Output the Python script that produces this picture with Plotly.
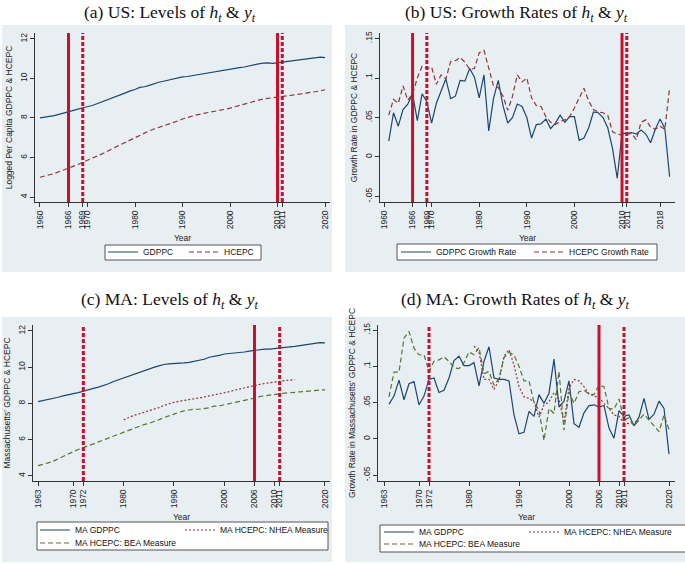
import plotly.graph_objects as go

# ---- data ----
us_years = list(range(1960, 2021))
us_gr_years = list(range(1961, 2021))
ma_years = list(range(1963, 2021))
ma_gr_years = list(range(1964, 2021))
nhea_years = list(range(1980, 2015))
nhea_gr_years = list(range(1981, 2015))

us_gdppc = [8.01, 8.03, 8.08, 8.12, 8.18, 8.25, 8.31, 8.37, 8.45, 8.52,
            8.56, 8.63, 8.72, 8.81, 8.89, 8.96, 9.06, 9.15, 9.27, 9.37,
            9.44, 9.55, 9.58, 9.65, 9.75, 9.81, 9.86, 9.91, 9.97, 10.04,
            10.08, 10.10, 10.14, 10.18, 10.23, 10.26, 10.31, 10.36, 10.40, 10.45,
            10.50, 10.52, 10.55, 10.58, 10.64, 10.69, 10.74, 10.78, 10.79, 10.76,
            10.79, 10.82, 10.85, 10.88, 10.92, 10.95, 10.97, 11.00, 11.05, 11.08,
            11.05]
us_hcepc = [5.00, 5.05, 5.13, 5.19, 5.28, 5.36, 5.44, 5.54, 5.65, 5.76,
            5.88, 5.97, 6.07, 6.17, 6.29, 6.42, 6.54, 6.66, 6.77, 6.88,
            7.02, 7.15, 7.26, 7.35, 7.44, 7.52, 7.58, 7.65, 7.76, 7.85,
            7.95, 8.03, 8.09, 8.16, 8.21, 8.25, 8.29, 8.34, 8.39, 8.44,
            8.50, 8.57, 8.66, 8.73, 8.79, 8.85, 8.90, 8.96, 8.99, 9.02,
            9.05, 9.08, 9.11, 9.13, 9.17, 9.22, 9.26, 9.29, 9.33, 9.37,
            9.43]

us_gdppc_gr = [0.020, 0.056, 0.039, 0.060, 0.067, 0.080, 0.046, 0.080, 0.070, 0.043,
               0.068, 0.083, 0.099, 0.074, 0.077, 0.097, 0.096, 0.112, 0.101, 0.075,
               0.104, 0.033, 0.074, 0.097, 0.065, 0.043, 0.050, 0.067, 0.064, 0.050,
               0.024, 0.041, 0.042, 0.048, 0.036, 0.043, 0.053, 0.044, 0.051, 0.051,
               0.021, 0.024, 0.037, 0.057, 0.056, 0.050, 0.037, 0.011, -0.027, 0.030,
               0.030, 0.031, 0.029, 0.034, 0.029, 0.018, 0.035, 0.048, 0.036, -0.025]
us_hcepc_gr = [0.053, 0.073, 0.068, 0.090, 0.072, 0.080, 0.100, 0.115, 0.112, 0.114,
               0.092, 0.104, 0.099, 0.121, 0.122, 0.126, 0.120, 0.111, 0.112, 0.132,
               0.135, 0.112, 0.090, 0.088, 0.077, 0.059, 0.077, 0.104, 0.095, 0.100,
               0.075, 0.065, 0.064, 0.051, 0.044, 0.041, 0.045, 0.047, 0.051, 0.062,
               0.075, 0.087, 0.071, 0.060, 0.057, 0.056, 0.053, 0.032, 0.029, 0.028,
               0.029, 0.030, 0.022, 0.044, 0.047, 0.038, 0.035, 0.039, 0.035, 0.088]

ma_gdppc = [8.10, 8.15, 8.21, 8.29, 8.34, 8.42, 8.50, 8.54, 8.60, 8.69,
            8.77, 8.83, 8.90, 8.98, 9.09, 9.21, 9.31, 9.41, 9.51, 9.59,
            9.69, 9.82, 9.90, 9.99, 10.07, 10.15, 10.18, 10.19, 10.20, 10.24,
            10.27, 10.33, 10.38, 10.44, 10.55, 10.59, 10.65, 10.73, 10.75, 10.76,
            10.80, 10.84, 10.89, 10.94, 10.98, 11.00, 11.00, 11.04, 11.07, 11.10,
            11.12, 11.15, 11.20, 11.23, 11.27, 11.32, 11.36, 11.34]
ma_hcepc_bea = [4.57, 4.63, 4.72, 4.81, 4.95, 5.10, 5.22, 5.34, 5.46, 5.55,
                5.66, 5.77, 5.88, 5.99, 6.08, 6.18, 6.29, 6.41, 6.52, 6.65,
                6.74, 6.83, 6.90, 6.99, 7.10, 7.22, 7.33, 7.43, 7.51, 7.59,
                7.64, 7.68, 7.68, 7.72, 7.76, 7.85, 7.86, 7.93, 7.98, 8.04,
                8.11, 8.17, 8.23, 8.31, 8.38, 8.42, 8.46, 8.52, 8.54, 8.57,
                8.59, 8.62, 8.65, 8.68, 8.69, 8.70, 8.74, 8.75]
ma_hcepc_nhea = [7.09, 7.22, 7.34, 7.42, 7.50, 7.57, 7.65, 7.77, 7.89, 7.99,
                 8.06, 8.12, 8.18, 8.23, 8.26, 8.30, 8.36, 8.42, 8.47, 8.50,
                 8.57, 8.65, 8.73, 8.80, 8.86, 8.92, 8.99, 9.05, 9.10, 9.15,
                 9.19, 9.23, 9.26, 9.29, 9.31]

ma_gdppc_gr = [0.048, 0.059, 0.081, 0.054, 0.076, 0.079, 0.047, 0.059, 0.082, 0.084,
               0.064, 0.067, 0.084, 0.108, 0.114, 0.101, 0.101, 0.105, 0.073, 0.107,
               0.127, 0.084, 0.082, 0.082, 0.080, 0.033, 0.007, 0.009, 0.038, 0.031,
               0.061, 0.049, 0.063, 0.110, 0.044, 0.052, 0.080, 0.021, 0.016, 0.036,
               0.046, 0.047, 0.044, 0.046, 0.015, 0.001, 0.039, 0.031, 0.033, 0.018,
               0.030, 0.056, 0.027, 0.034, 0.052, 0.042, -0.021]
ma_bea_gr = [0.058, 0.092, 0.092, 0.139, 0.148, 0.125, 0.116, 0.116, 0.093, 0.107,
             0.109, 0.113, 0.107, 0.098, 0.097, 0.105, 0.120, 0.116, 0.126, 0.090,
             0.093, 0.074, 0.083, 0.112, 0.119, 0.116, 0.100, 0.080, 0.080, 0.050,
             0.040, -0.002, 0.042, 0.035, 0.093, 0.012, 0.065, 0.049, 0.065, 0.067,
             0.062, 0.061, 0.074, 0.072, 0.042, 0.041, 0.055, 0.026, 0.029, 0.018,
             0.026, 0.034, 0.026, 0.018, 0.010, 0.033, 0.013]
ma_nhea_gr = [0.128, 0.120, 0.082, 0.082, 0.068, 0.081, 0.114, 0.123, 0.102, 0.072,
              0.058, 0.056, 0.051, 0.030, 0.047, 0.051, 0.064, 0.055, 0.022, 0.070,
              0.082, 0.080, 0.072, 0.062, 0.059, 0.057, 0.049, 0.042, 0.033, 0.031,
              0.022, 0.021, 0.023, 0.025]

# reference years (solid / dashed vertical lines)
us_solid = [1966, 2010]
us_dashed = [1969, 2011]
ma_solid = [2006]
ma_dashed = [1972, 2011]

us_ticks_a = [1960, 1966, 1969, 1970, 1980, 1990, 2000, 2010, 2011, 2020]
us_ticks_b = [1960, 1966, 1969, 1970, 1980, 1990, 2000, 2010, 2011, 2018]
ma_ticks = [1963, 1970, 1972, 1980, 1990, 2000, 2006, 2010, 2011, 2020]
level_ticks = [4, 6, 8, 10, 12]
growth_ticks = [-0.05, 0, 0.05, 0.1, 0.15]
growth_ticktext = ["-.05", "0", ".05", ".1", ".15"]

# ---- styling ----
W, H = 685, 564
NAVY = "#1a476f"
MAROON = "#90353b"
GREEN = "#55752f"
VLINE = "#c8102e"
REGION = "#e8eff2"
GRID = "#e6eef1"
SANS = "Liberation Sans"
SERIF = "Liberation Serif"
FS = 8.5


def px(x):
    return x / W


def py(y):
    return 1 - y / H


fig = go.Figure()

# panels: axis suffix, x domain px, y domain px, x range, y range, ticks, y title, title
panels = [
    ("", (35, 330), (33, 202), [1958.95, 2021.05], [3.75, 12.3], us_ticks_a, "level",
     "Logged Per Capita GDPPC & HCEPC", "(a) US: Levels of", (170, 13)),
    ("2", (380, 675), (33, 202), [1959.16, 2021.13], [-0.057, 0.157], us_ticks_b, "growth",
     "Growth Rate in GDPPC & HCEPC", "(b) US: Growth Rates of", (516, 13)),
    ("3", (33, 330), (325, 481), [1962.0, 2021.0], [3.72, 12.33], ma_ticks, "level",
     "Massachusetts' GDPPC & HCEPC", "(c) MA: Levels of", (170, 300)),
    ("4", (378, 675), (325, 481), [1961.8, 2021.2], [-0.058, 0.157], ma_ticks, "growth",
     "Growth Rate in Massachusetts' GDPPC & HCEPC", "(d) MA: Growth Rates of", (515, 300)),
]

# grey-blue graph regions behind each panel
regions = [(2, 25, 332, 272), (345, 25, 685, 272), (2, 317, 332, 562), (345, 317, 685, 562)]
shapes = []
for x0, y0, x1, y1 in regions:
    shapes.append(dict(type="rect", xref="paper", yref="paper", x0=px(x0), x1=px(x1),
                       y0=py(y1), y1=py(y0), fillcolor=REGION, line_width=0, layer="below"))

annotations = []
layout_axes = {}
for suf, xd, yd, xr, yr, xt, kind, ytitle, title, tpos in panels:
    ax = dict(domain=[px(xd[0]), px(xd[1])], range=xr, tickvals=xt, tickangle=-90,
              showline=True, linecolor="#333", linewidth=1, ticks="outside", ticklen=4,
              tickcolor="#333", showgrid=False, zeroline=False,
              tickfont=dict(family=SANS, size=FS, color="#222"),
              title=dict(text="Year", font=dict(family=SANS, size=FS, color="#222"), standoff=6),
              anchor="y" + suf)
    if kind == "level":
        yt = dict(tickvals=level_ticks)
    else:
        yt = dict(tickvals=growth_ticks, ticktext=growth_ticktext)
    ay = dict(domain=[py(yd[1]), py(yd[0])], range=yr, tickangle=-90, showline=True,
              linecolor="#333", linewidth=1, ticks="outside", ticklen=4, tickcolor="#333",
              showgrid=True, gridcolor=GRID, gridwidth=1, zeroline=False,
              tickfont=dict(family=SANS, size=FS, color="#222"),
              title=dict(text=ytitle, font=dict(family=SANS, size=FS, color="#222"), standoff=4),
              anchor="x" + suf, **yt)
    layout_axes["xaxis" + suf] = ax
    layout_axes["yaxis" + suf] = ay
    annotations.append(dict(
        text=title + " <i>h</i><sub><i>t</i></sub> &amp; <i>y</i><sub><i>t</i></sub>",
        xref="paper", yref="paper", x=px(tpos[0]), y=py(tpos[1]), showarrow=False,
        xanchor="center", yanchor="middle", font=dict(family=SERIF, size=17.5, color="#111")))

# vertical reference lines
for suf, solid, dashed in [("", us_solid, us_dashed), ("2", us_solid, us_dashed),
                           ("3", ma_solid, ma_dashed), ("4", ma_solid, ma_dashed)]:
    xref = "x" + suf
    yref = ("y" + suf) + " domain"
    for yr_ in solid:
        shapes.append(dict(type="line", xref=xref, yref=yref, x0=yr_, x1=yr_, y0=0, y1=1,
                           line=dict(color=VLINE, width=3)))
    for yr_ in dashed:
        shapes.append(dict(type="line", xref=xref, yref=yref, x0=yr_, x1=yr_, y0=0, y1=1,
                           line=dict(color=VLINE, width=3, dash="4px,2px")))

# legend boxes
for x0, y0, x1, y1 in [(105, 245, 261, 260), (397, 244, 657, 260),
                       (37, 522, 328, 550), (380, 525, 690, 552)]:
    shapes.append(dict(type="rect", xref="paper", yref="paper", x0=px(x0), x1=px(x1),
                       y0=py(y1), y1=py(y0), fillcolor="white",
                       line=dict(color="#555", width=1), layer="above"))

# traces: (x, y, axis suffix, name, color, dash, legend id)
series = [
    (us_years, us_gdppc, "", "GDPPC", NAVY, "solid", "legend"),
    (us_years, us_hcepc, "", "HCEPC", MAROON, "5px,3px", "legend2"),
    (us_gr_years, us_gdppc_gr, "2", "GDPPC Growth Rate", NAVY, "solid", "legend3"),
    (us_gr_years, us_hcepc_gr, "2", "HCEPC Growth Rate", MAROON, "5px,3px", "legend4"),
    (ma_years, ma_gdppc, "3", "MA GDPPC", NAVY, "solid", "legend5"),
    (nhea_years, ma_hcepc_nhea, "3", "MA HCEPC: NHEA Measure", MAROON, "2px,2px", "legend6"),
    (ma_years, ma_hcepc_bea, "3", "MA HCEPC: BEA Measure", GREEN, "5px,3px", "legend7"),
    (ma_gr_years, ma_gdppc_gr, "4", "MA GDPPC", NAVY, "solid", "legend8"),
    (nhea_gr_years, ma_nhea_gr, "4", "MA HCEPC: NHEA Measure", MAROON, "2px,2px", "legend9"),
    (ma_gr_years, ma_bea_gr, "4", "MA HCEPC: BEA Measure", GREEN, "5px,3px", "legend10"),
]
for x, y, suf, name, color, dash, leg in series:
    fig.add_trace(go.Scatter(x=x, y=y, mode="lines", name=name, xaxis="x" + suf, yaxis="y" + suf,
                             line=dict(color=color, width=1.2, dash=dash), legend=leg))

# legend item positions (left x, centre y in pixels)
legend_pos = {
    "legend": (103, 252), "legend2": (184, 252),
    "legend3": (396, 252), "legend4": (529, 252),
    "legend5": (35, 530), "legend6": (180, 530), "legend7": (35, 543),
    "legend8": (379, 532), "legend9": (524, 532), "legend10": (379, 544),
}
for leg, (lx, ly) in legend_pos.items():
    layout_axes[leg] = dict(x=px(lx), y=py(ly), xanchor="left", yanchor="middle",
                            bgcolor="rgba(0,0,0,0)", borderwidth=0,
                            font=dict(family=SANS, size=FS, color="#111"), itemwidth=30)

fig.update_layout(
    width=W, height=H, margin=dict(l=0, r=0, t=0, b=0, autoexpand=False),
    paper_bgcolor="white", plot_bgcolor="white", showlegend=True,
    shapes=shapes, annotations=annotations, **layout_axes)

# the page body has a default 8px margin; drop it so the figure fills the window
fig.write_html("out.html", config={"displayModeBar": False},
               post_script="document.body.style.margin='0';")
